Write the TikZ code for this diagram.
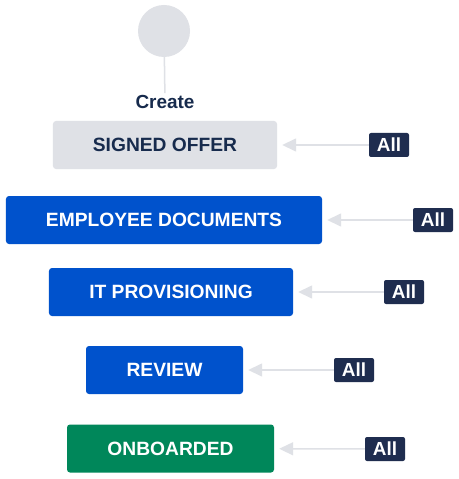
\documentclass[tikz,border=0pt]{standalone}
\usepackage{fontspec}
\setmainfont{Liberation Sans}
\usetikzlibrary{arrows.meta}
\definecolor{statusgray}{HTML}{DFE1E6}
\definecolor{statusblue}{HTML}{0052CC}
\definecolor{statusgreen}{HTML}{00875A}
\definecolor{textnavy}{HTML}{172B4D}
\definecolor{badgenavy}{HTML}{1F2D4F}
\tikzset{
  state/.style={rounded corners=3bp, minimum height=48bp, inner sep=0pt, text=white,
                font=\bfseries\fontsize{19.3}{19.3}\selectfont},
  allbadge/.style={fill=badgenavy, rounded corners=2bp, minimum width=40bp, minimum height=24bp,
                   inner sep=0pt, text=white, font=\bfseries\fontsize{19}{19}\selectfont},
  transition/.style={draw=statusgray, line width=1.5bp, shorten >=5bp,
                     -{Triangle[length=14bp,width=13bp]}}
}
\begin{document}
\begin{tikzpicture}[x=1bp,y=-1bp]
      \useasboundingbox[fill=white] (0,0) rectangle (459,479);
      %%%%%%%%%%%%%%%%%%%%%%%%%%%%%%%%%%%%%%%%%%%%%%%
      \node[circle, fill=statusgray, minimum size=52bp, inner sep=0pt] at (164,31) (start) {};
      \node[text=textnavy, font=\bfseries\fontsize{19}{19}\selectfont, inner sep=2bp] at (165,102) (create) {Create};
      \draw[statusgray, line width=1.5bp] (start) -- (create);
      %%%%%%%%%%%%%%%%%%%%%%%%%%%%%%%%%%%%%%%%%%%%%%%
      \node[state, fill=statusgray, text=textnavy, minimum width=224bp] at (165,145) (offer) {SIGNED OFFER};
      \node[allbadge] at (389,145) (all1) {All};
      \draw[transition] (all1) -- (offer);
      %%%%%%%%%%%%%%%%%%%%%%%%%%%%%%%%%%%%%%%%%%%%%%%
      \node[state, fill=statusblue, minimum width=316bp] at (164,220) (docs) {EMPLOYEE DOCUMENTS};
      \node[allbadge] at (433,220) (all2) {All};
      \draw[transition] (all2) -- (docs);
      %%%%%%%%%%%%%%%%%%%%%%%%%%%%%%%%%%%%%%%%%%%%%%%
      \node[state, fill=statusblue, minimum width=244bp] at (171,292) (itprov) {IT PROVISIONING};
      \node[allbadge] at (404,292) (all3) {All};
      \draw[transition] (all3) -- (itprov);
      %%%%%%%%%%%%%%%%%%%%%%%%%%%%%%%%%%%%%%%%%%%%%%%
      \node[state, fill=statusblue, minimum width=157bp] at (164.5,370) (review) {REVIEW};
      \node[allbadge] at (354,370) (all4) {All};
      \draw[transition] (all4) -- (review);
      %%%%%%%%%%%%%%%%%%%%%%%%%%%%%%%%%%%%%%%%%%%%%%%
      \node[state, fill=statusgreen, minimum width=207bp] at (170.5,448.5) (onboard) {ONBOARDED};
      \node[allbadge] at (385,449) (all5) {All};
      \draw[transition] (all5) -- (onboard);
      %%%%%%%%%%%%%%%%%%%%%%%%%%%%%%%%%%%%%%%%%%%%%%%
\end{tikzpicture}
\end{document}
